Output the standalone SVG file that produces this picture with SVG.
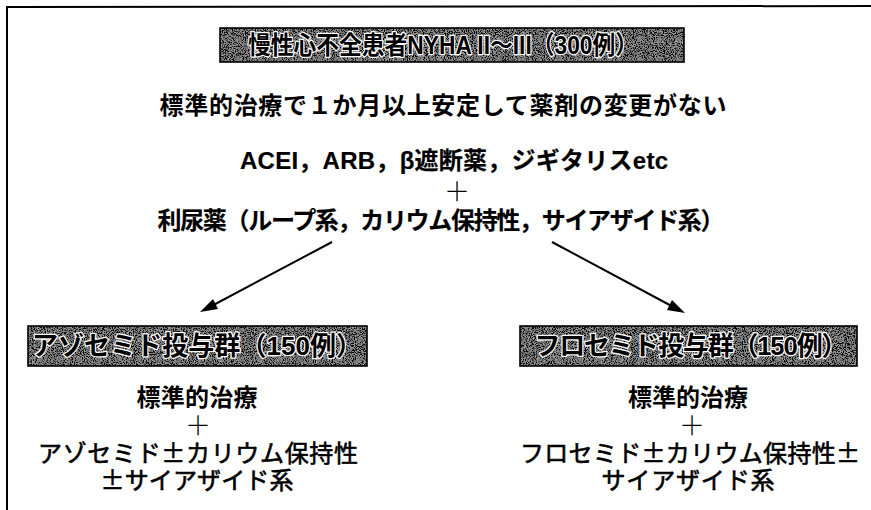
<svg xmlns="http://www.w3.org/2000/svg" width="871" height="510" viewBox="0 0 871 510">
<defs>
<style>
text{font-family:"Liberation Sans","Noto Sans CJK JP",sans-serif;fill:#000;text-anchor:middle}
.b{font-weight:bold;font-size:24px}
.m{font-weight:bold;font-size:24px;stroke:#000;stroke-width:0.2px}
.r{font-family:"Noto Sans CJK JP",sans-serif;font-size:24px;stroke:#000;stroke-width:0.6px}
.plus{font-family:"Noto Sans CJK JP",sans-serif;font-size:26px;font-weight:300}
.bt{font-weight:bold;font-size:25px;stroke:#fff;stroke-width:2.5px;paint-order:stroke;stroke-linejoin:round}
.box{stroke:#000;stroke-width:1.6}
.conn{stroke:#000;stroke-width:2;fill:none}
</style>
<filter id="noise" x="0" y="0" width="1" height="1" filterUnits="objectBoundingBox">
<feTurbulence type="fractalNoise" baseFrequency="0.9" numOctaves="1" seed="3" result="t"/>
<feColorMatrix in="t" type="matrix" values="0 0 0 0 0  0 0 0 0 0  0 0 0 0 0  5 0 0 0 -2.2" result="a"/>
<feFlood flood-color="#ffffff" result="w"/>
<feComposite in="a" in2="w" operator="in" result="wd"/>
<feTurbulence type="fractalNoise" baseFrequency="0.95" numOctaves="1" seed="11" result="t2"/>
<feColorMatrix in="t2" type="matrix" values="0 0 0 0 0  0 0 0 0 0  0 0 0 0 0  5 0 0 0 -2.4" result="a2"/>
<feFlood flood-color="#1a1a1a" result="k"/>
<feComposite in="a2" in2="k" operator="in" result="kd"/>
<feFlood flood-color="#9a9a9a" result="g"/>
<feMerge><feMergeNode in="g"/><feMergeNode in="wd"/><feMergeNode in="kd"/></feMerge>
</filter>
</defs>
<path d="M7,510 L7,7 L871,6" fill="none" stroke="#000" stroke-width="2"/>

<g id="title">
<rect x="220" y="28" width="464" height="34" filter="url(#noise)"/>
<rect class="box" x="220" y="28" width="464" height="34" fill="none"/>
<text class="bt" x="443" y="54" textLength="390" lengthAdjust="spacingAndGlyphs">慢性心不全患者NYHA II～III（300例）</text>
</g>

<g id="criteria">
<text class="b" x="443" y="114" textLength="567">標準的治療で１か月以上安定して薬剤の変更がない</text>
<text class="m" x="454" y="169" textLength="428">ACEI，ARB，β遮断薬，ジギタリスetc</text>
<text class="plus" x="457" y="201">＋</text>
<text class="m" x="441" y="229" textLength="567">利尿薬（ループ系，カリウム保持性，サイアザイド系）</text>
</g>

<g id="connectors">
<line class="conn" x1="332" y1="242" x2="206" y2="309"/>
<path d="M200,312 L213,299 L218,309 z" fill="#000"/>
<line class="conn" x1="552" y1="242" x2="679" y2="310"/>
<path d="M685,313 L667,310 L672,300 z" fill="#000"/>
</g>

<g id="azosemide">
<rect x="28" y="326" width="339" height="40" filter="url(#noise)"/>
<rect class="box" x="28" y="326" width="339" height="40" fill="none"/>
<text class="bt" x="197" y="355" style="font-size:26px" textLength="330">アゾセミド投与群（150例）</text>
<text class="b" x="197" y="406" textLength="121">標準的治療</text>
<text class="plus" x="198" y="435">＋</text>
<text class="r" x="198" y="462" textLength="320">アゾセミド±カリウム保持性</text>
<text class="r" x="197" y="489" textLength="193">±サイアザイド系</text>
</g>

<g id="furosemide">
<rect x="520" y="326" width="337" height="40" filter="url(#noise)"/>
<rect class="box" x="520" y="326" width="337" height="40" fill="none"/>
<text class="bt" x="691" y="355" style="font-size:26px" textLength="313">フロセミド投与群（150例）</text>
<text class="b" x="688" y="406" textLength="120">標準的治療</text>
<text class="plus" x="692" y="435">＋</text>
<text class="r" x="690" y="462" textLength="340">フロセミド±カリウム保持性±</text>
<text class="r" x="688" y="489" textLength="173">サイアザイド系</text>
</g>
</svg>
